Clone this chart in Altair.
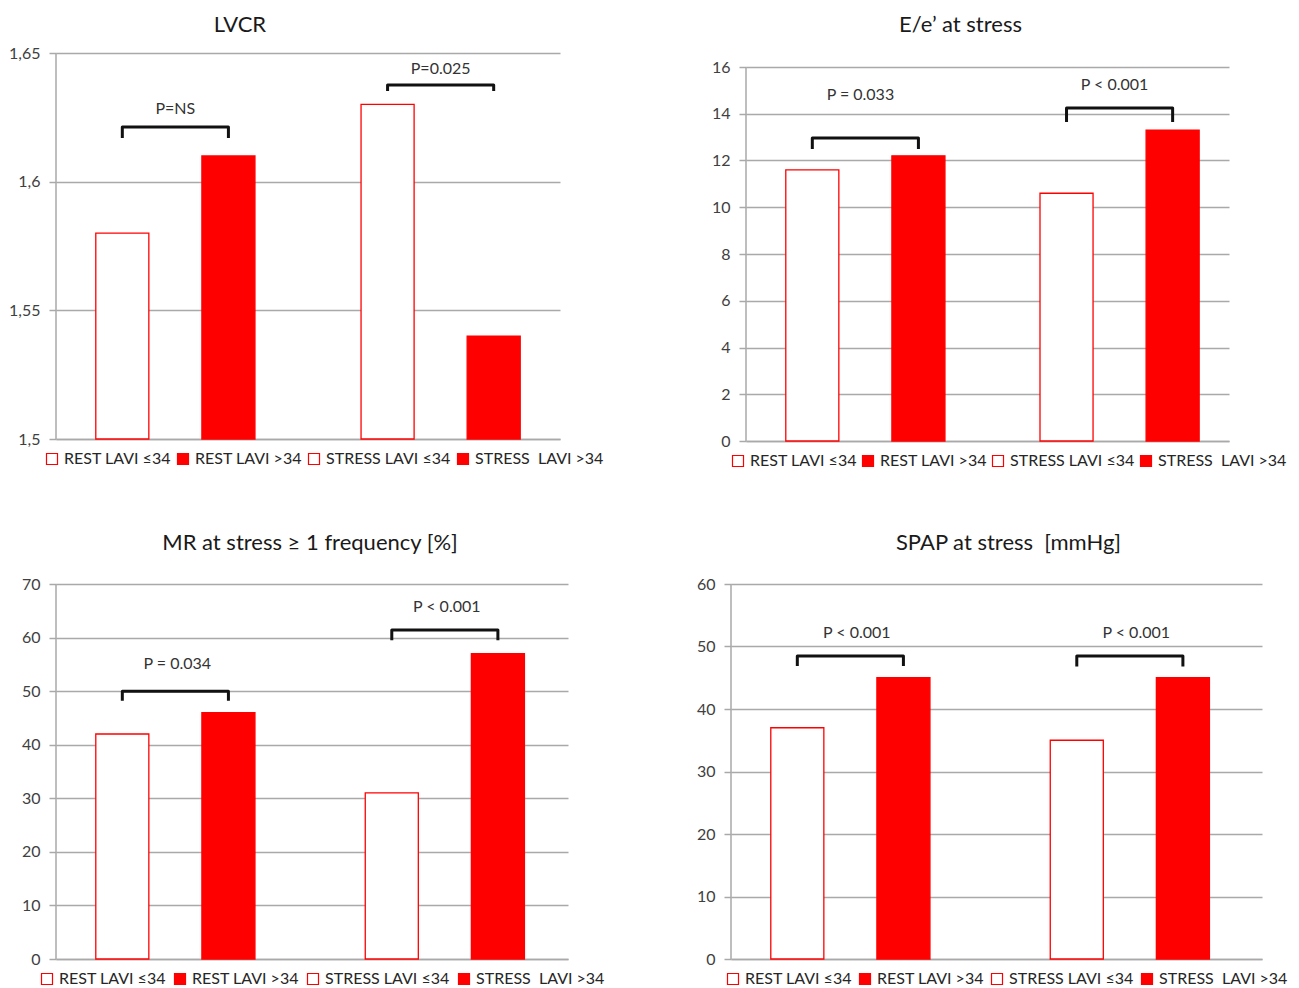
import altair as alt
import pandas as pd

# ---- data ----
series_labels = ["REST LAVI \u226434", "REST LAVI >34", "STRESS LAVI \u226434", "STRESS\u00a0 LAVI >34"]
groups = ["REST", "REST", "STRESS", "STRESS"]
lavi = ["\u226434", ">34", "\u226434", ">34"]
fill_colors = ["#ffffff", "#ff0000", "#ffffff", "#ff0000"]

titles = ["LVCR", "E/e\u2019 at stress", "MR at stress \u2265 1 frequency [%]", "SPAP at stress\u00a0 [mmHg]"]
lvcr = [1.58, 1.61, 1.63, 1.54]
ee_stress = [11.6, 12.2, 10.6, 13.3]
mr_freq = [42, 46, 31, 57]
spap = [37, 45, 35, 45]

p_text = [["P=NS", "P=0.025"], ["P = 0.033", "P < 0.001"],
          ["P = 0.034", "P < 0.001"], ["P < 0.001", "P < 0.001"]]
bracket_top = [[1.6212, 1.6376], [12.96, 14.25], [50.0, 61.4], [48.5, 48.5]]
bracket_leg = [[1.6170, 1.6352], [12.49, 13.65], [48.2, 59.5], [46.9, 46.8]]
p_y = [[1.6282, 1.6438], [14.8, 15.23], [55.1, 65.7], [52.2, 52.2]]

y_domains = [[1.5, 1.65], [0, 16], [0, 70], [0, 60]]
y_ticks = [[1.5, 1.55, 1.6, 1.65], list(range(0, 17, 2)), list(range(0, 71, 10)), list(range(0, 61, 10))]

GRID = "#a9a9a9"
FONT = "Lato"
RED = "#ff0000"


def panel(i, values, width, height, title_dx, title_offset, leg_x, leg_pad,
          top_pad=0, comma=False):
    lo, hi = y_domains[i]
    # extra blank space above the top gridline (in px), expressed on the scale
    scale_hi = hi + top_pad * (hi - lo) / height
    full_h = height + top_pad

    bars = pd.DataFrame({"series": series_labels, "group": groups, "lavi": lavi, "value": values})
    xenc = alt.X("group:N",
                 scale=alt.Scale(domain=["REST", "STRESS"], paddingInner=0.1, paddingOuter=0),
                 axis=alt.Axis(labels=False, ticks=False, title=None, grid=False,
                               domainColor=GRID, domainWidth=1.5))
    xoff = alt.XOffset("lavi:N", scale=alt.Scale(domain=["\u226434", ">34"],
                                                 paddingInner=0.5, paddingOuter=0.375))
    yscale = alt.Scale(domain=[lo, scale_hi], nice=False, zero=False)
    ax_kw = dict(values=y_ticks[i], title=None, grid=True, gridColor=GRID, gridWidth=1.5,
                 domain=False, tickColor=GRID, tickWidth=1.5, tickSize=7,
                 labelPadding=9, labelFontSize=16, labelFont=FONT, labelColor="#404040")
    if comma:
        ax_kw["format"] = ".2~f"
        ax_kw["labelExpr"] = "replace(datum.label, '.', ',')"
    yaxis = alt.Axis(**ax_kw)

    bar = alt.Chart(bars).mark_bar(stroke=RED, strokeWidth=1.3).encode(
        x=xenc, xOffset=xoff,
        y=alt.Y("value:Q", scale=yscale, axis=yaxis),
        y2=alt.datum(lo),
        fill=alt.Fill("series:N", scale=alt.Scale(domain=series_labels, range=fill_colors),
                      legend=alt.Legend(title=None, orient="none", legendX=leg_x, legendY=full_h + 12,
                                        direction="horizontal", columns=4, symbolType="square",
                                        symbolSize=121, symbolStrokeColor=RED, symbolStrokeWidth=1.2,
                                        labelFontSize=16, labelFont=FONT, labelColor="#262626",
                                        columnPadding=leg_pad, labelOffset=4)),
    )

    # y axis line, from the bottom of the scale to the top gridline
    yline = alt.Chart(pd.DataFrame({"a": [lo], "b": [hi]})).mark_rule(
        color=GRID, strokeWidth=1.5).encode(
        x=alt.value(0), y=alt.Y("a:Q", scale=yscale), y2="b:Q")

    rows = []
    for g, t, l in zip(["REST", "STRESS"], bracket_top[i], bracket_leg[i]):
        rows += [{"group": g, "lavi": "\u226434", "y": l, "k": 0},
                 {"group": g, "lavi": "\u226434", "y": t, "k": 1},
                 {"group": g, "lavi": ">34", "y": t, "k": 2},
                 {"group": g, "lavi": ">34", "y": l, "k": 3}]
    br = alt.Chart(pd.DataFrame(rows)).mark_line(color="#111111", strokeWidth=3, strokeJoin="round").encode(
        x=xenc, xOffset=xoff, y=alt.Y("y:Q", scale=yscale), detail="group:N", order="k:Q")

    txt = alt.Chart(pd.DataFrame({"group": ["REST", "STRESS"], "t": p_text[i], "y": p_y[i]})).mark_text(
        font=FONT, fontSize=16, color="#333333").encode(
        x=xenc, y=alt.Y("y:Q", scale=yscale), text="t:N")

    return alt.layer(bar, yline, br, txt).properties(
        width=width, height=full_h,
        title=alt.TitleParams(titles[i], font=FONT, fontSize=22, fontWeight="normal", color="#1a1a1a",
                              anchor="middle", frame="group", dx=title_dx, offset=title_offset))


p1 = panel(0, lvcr, 504, 386, -68, 8, -12, 4, comma=True)
p2 = panel(1, ee_stress, 483, 374, -27, 16, -16, 3, top_pad=14)
p3 = panel(2, mr_freq, 512, 375, -2, 21, -17, 6)
p4 = panel(3, spap, 531, 375, 12, 21, -6, 5)

row1 = alt.hconcat(p1, p2, spacing=186, bounds="flush").resolve_scale(
    fill="independent").resolve_legend(fill="independent")
row2 = alt.hconcat(p3, p4, spacing=163, bounds="flush").resolve_scale(
    fill="independent").resolve_legend(fill="independent")

chart = alt.vconcat(row1, row2, spacing=63).resolve_scale(
    fill="independent").resolve_legend(fill="independent").properties(
    padding={"left": 0, "top": 6, "right": 0, "bottom": 0}).configure_view(stroke=None)

chart.save("out.html", embed_options={"renderer": "svg", "actions": False})
